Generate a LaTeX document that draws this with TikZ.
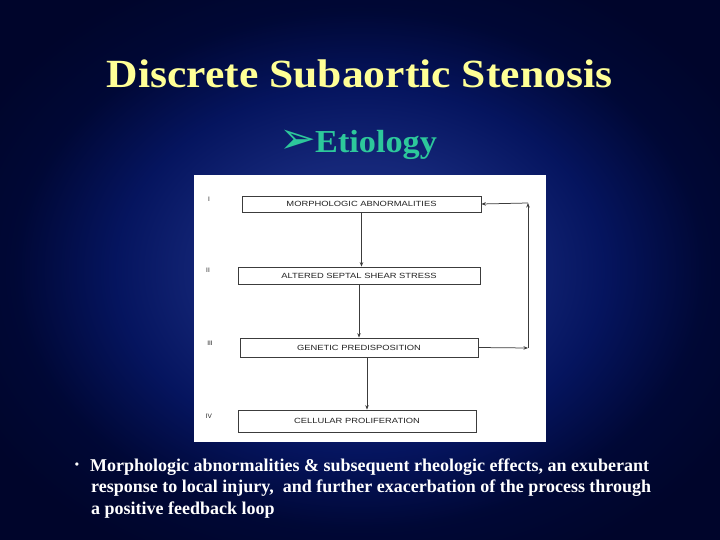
\documentclass[tikz,border=0pt]{standalone}
\usepackage{fontspec}
\setmainfont{Liberation Serif}
\newfontfamily\diagfont{Liberation Sans}
\newfontfamily\symfont{DejaVu Sans}
\usetikzlibrary{arrows.meta}
\definecolor{titleyellow}{RGB}{255,255,150}
\definecolor{subteal}{RGB}{45,200,155}
\definecolor{boxline}{RGB}{60,60,60}
\definecolor{boxtext}{RGB}{35,35,35}
\pgfdeclareradialshading{slidebg}{\pgfpoint{0bp}{0bp}}{rgb(0bp)=(0.13,0.2,0.55); rgb(10bp)=(0.08,0.15,0.47); rgb(17bp)=(0.02,0.08,0.37); rgb(24bp)=(0,0.03,0.21); rgb(30bp)=(0,0.02,0.17); rgb(50bp)=(0,0.02,0.17)}
\tikzset{
  stepbox/.style={draw=boxline, line width=0.75pt, fill=white, inner sep=0pt,
    text=boxtext, font=\diagfont\fontsize{7.5}{8}\selectfont},
  romanlbl/.style={text=boxtext, inner sep=0pt, font=\diagfont\fontsize{6.5}{7}\selectfont},
  flow/.style={draw=boxline, line width=0.75pt, -{Stealth[length=4.5pt,width=3.5pt]}},
  bodyline/.style={anchor=base west, inner sep=0pt, text=white, font=\fontsize{18}{21}\selectfont\bfseries}
}
\begin{document}
\begin{tikzpicture}[x=1pt,y=-1pt]
\useasboundingbox (0,0) rectangle (720,540);
\shade[shading=slidebg] (0,0) rectangle (720,540);

% title
\node[anchor=base, inner sep=0pt, text=titleyellow, font=\fontsize{40}{44}\selectfont\bfseries] (title) at (359.5,88) {\scalebox{1.09}[1]{Discrete Subaortic Stenosis}};
\node[anchor=base west, inner sep=0pt, text=subteal, font=\fontsize{32}{36}\selectfont\bfseries] (etio) at (315,153) {\scalebox{1.07}[1]{Etiology}};
\node[inner sep=0pt, text=subteal, font=\symfont\fontsize{44}{48}\selectfont] (arrowsym) at (298,142) {➢};

% figure panel
\node[fill=white, inner sep=0pt, minimum width=352pt, minimum height=267pt, anchor=north west] (panel) at (194,175) {};

\node[stepbox, minimum width=239pt, minimum height=16pt] (I) at (361.5,204) {\scalebox{1.25}[1]{MORPHOLOGIC ABNORMALITIES}};
\node[stepbox, minimum width=242pt, minimum height=17pt] (II) at (359,275.5) {\scalebox{1.25}[1]{ALTERED SEPTAL SHEAR STRESS}};
\node[stepbox, minimum width=238pt, minimum height=19pt] (III) at (359,347.5) {\scalebox{1.25}[1]{GENETIC PREDISPOSITION}};
\node[stepbox, minimum width=238pt, minimum height=22pt] (IV) at (357,421) {\scalebox{1.25}[1]{CELLULAR PROLIFERATION}};

\node[romanlbl] (lI) at (209,199) {I};
\node[romanlbl] (lII) at (208,270) {II};
\node[romanlbl] (lIII) at (210,343) {III};
\node[romanlbl] (lIV) at (209,416) {IV};

\draw[flow] (I.south) -- (I.south |- II.north);
\draw[flow] (II.south) -- (II.south |- III.north);
\draw[flow] ([xshift=8pt]III.south) -- ([xshift=8pt]III.south |- IV.north);

\coordinate (c1) at (528,348);
\coordinate (c2) at (528,203);
\draw[flow] (III.east) -- (c1);
\draw[flow] (c1) -- (c2);
\draw[flow] (c2) -- (I.east);

% bullet text
\node[inner sep=0pt, text=white, font=\fontsize{12}{14}\selectfont\bfseries] (dot) at (77,466) {•};
\node[bodyline] (b1) at (90,471) {Morphologic abnormalities \& subsequent rheologic effects, an exuberant};
\node[bodyline] (b2) at (91,492.5) {response to local injury, \ and further exacerbation of the process through};
\node[bodyline] (b3) at (91,514) {a positive feedback loop};
\end{tikzpicture}
\end{document}
